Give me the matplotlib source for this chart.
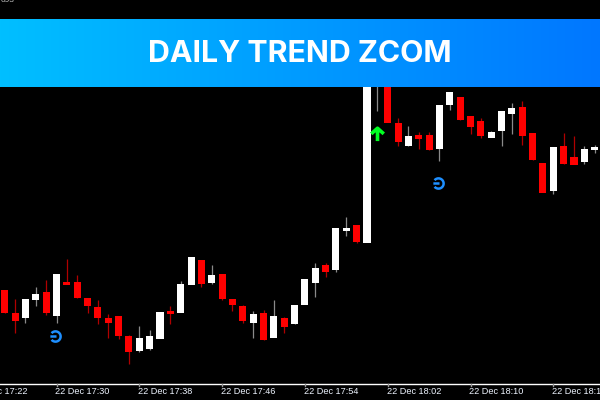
import numpy as np
import matplotlib
matplotlib.use("Agg")
import matplotlib.pyplot as plt
from matplotlib.colors import LinearSegmentedColormap
from matplotlib.path import Path

# minutes after 17:00, one candle per minute; prices are in chart-height units (larger = lower)
minutes = list(range(25, 83))
opens = [290,313,317,299,292,315,282,282,298,307,318,316,336,350,348,338,311,312,284,260,282,274,299,306,322,313,337,318,323,304,282,265,269,230,225,242,80,70,123,145,135,135,148,104,97,116,121,137,130,113,107,133,163,190,146,157,161,149]
closes = [312,320,299,294,312,274,284,297,305,317,322,335,351,338,336,312,313,284,257,283,275,298,304,320,314,339,316,326,305,279,268,271,228,228,241,70,70,122,141,136,138,149,105,92,119,126,135,132,111,108,135,159,192,147,163,164,149,147]
highs = [290,299,299,287,280,274,259,275,298,300,314,316,335,326,330,312,306,281,257,260,265,274,299,305,311,310,300,317,305,279,263,263,228,217,225,70,70,70,118,126,132,132,105,92,97,116,118,131,111,103,101,133,163,147,133,136,146,145]
lows = [313,333,323,306,315,323,284,298,313,324,338,339,364,352,350,338,324,312,284,287,284,300,311,323,338,340,337,333,324,304,297,277,272,236,243,242,111,122,146,146,149,150,161,110,120,134,138,137,146,134,145,160,192,194,164,164,164,153]
tick_minutes = [22, 30, 38, 46, 54, 62, 70, 78]
tick_labels = ["22 Dec 17:22", "22 Dec 17:30", "22 Dec 17:38", "22 Dec 17:46",
               "22 Dec 17:54", "22 Dec 18:02", "22 Dec 18:10", "22 Dec 18:18"]
arrow_minute, arrow_price = [61], [134]
circle_minutes, circle_prices = [29.9, 66.9], [336, 183]
title = "DAILY TREND ZCOM"
corner_text = "693"

PX = 10.35
x_at = lambda px: 30 + (px - 56) / PX
fig = plt.figure(figsize=(6, 4), dpi=100, facecolor="black")
ax = fig.add_axes([0, 0, 1, 1], facecolor="black")
ax.set_xlim(x_at(-0.5), x_at(599.5))
ax.set_ylim(400, 0)
ax.axis("off")

for m, o, c, h, l in zip(minutes, opens, closes, highs, lows):
    up = c < o
    body = "white" if up else "#ff0000"
    wick = "#8a8a8a" if up else "#b00000"
    ax.plot([m, m], [l, h], color=wick, lw=0.9, solid_capstyle="butt", zorder=2)
    ax.bar(m, abs(o - c) + 0.5, bottom=min(o, c), width=0.68, color=body,
           edgecolor="none", zorder=3)

arrow_path = Path([[-0.95, 0.1], [0, 0.95], [0.95, 0.1], [0, 0.95], [0, -1]],
                  [Path.MOVETO, Path.LINETO, Path.LINETO, Path.MOVETO, Path.LINETO])
ax.plot(arrow_minute, arrow_price, ls="none", marker=arrow_path, ms=9.5, mfc="none", mew=2.6,
        mec="#00ff22", zorder=4)
circle_path = Path.make_compound_path(Path.arc(-140, 140), Path([[-1, 0], [0.2, 0]]))
ax.plot(circle_minutes, circle_prices, ls="none", marker=circle_path, ms=7.4, mfc="none",
        mec="#1e8fff", mew=1.8, zorder=4)

# axis line, ticks, labels
ax.axhline(383.5, color="white", lw=1, zorder=5)
for m, lab in zip(tick_minutes, tick_labels):
    ax.plot([m, m], [384, 386], color="#999999", lw=1, zorder=5)
    ax.text(m - 0.1, 392, lab, color="#eef4ff", fontsize=6.6, family="Liberation Sans",
            ha="left", va="center", zorder=6)
ax.text(x_at(0), 0, corner_text, color="#bbbbbb", fontsize=6, family="Liberation Sans",
        ha="left", va="center", zorder=6)

# banner
grad = np.linspace(0, 1, 256).reshape(1, -1)
cmap = LinearSegmentedColormap.from_list("b", ["#00bfff", "#0077ff"])
x0, x1 = ax.get_xlim()
ax.imshow(grad, cmap=cmap, extent=[x0, x1, 87, 19], aspect="auto", zorder=8)
ax.set_xlim(x0, x1); ax.set_ylim(400, 0)
ax.text(x_at(299.5), 54.5, title, color="white", fontsize=21.8, family="Inter", fontweight="bold",
        ha="center", va="center", zorder=9)

fig.savefig("out.png", dpi=100, facecolor="black")
